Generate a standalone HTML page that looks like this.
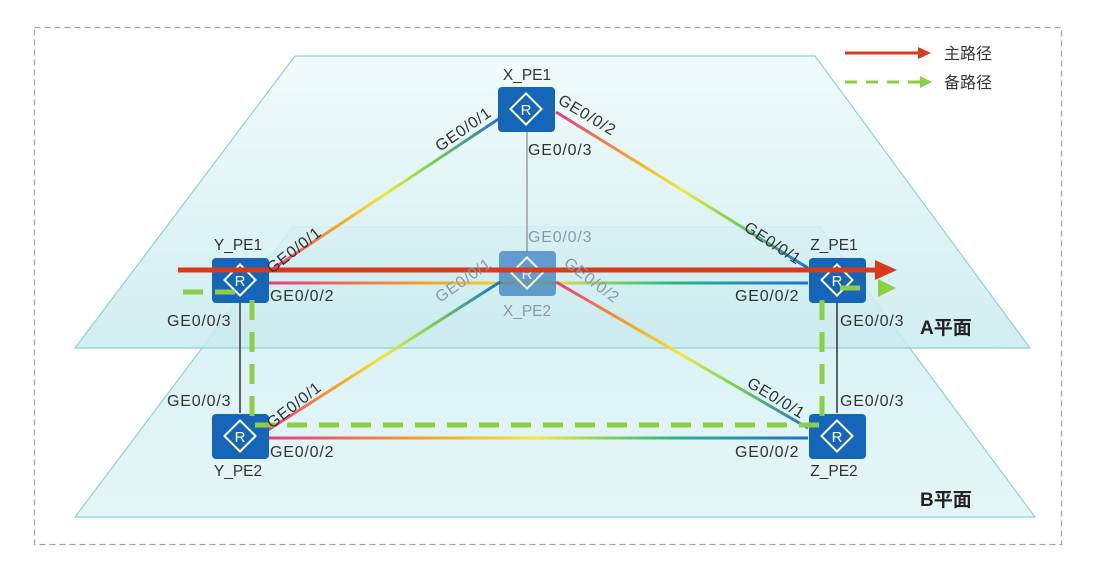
<!DOCTYPE html>
<html><head><meta charset="utf-8"><style>
html,body{margin:0;padding:0;background:#fff;}
svg{display:block;font-family:"Liberation Sans","Noto Sans CJK SC",sans-serif;}
.l{font-size:16px;fill:#333;letter-spacing:0.8px;}
.g{font-size:16px;fill:#8a9aa5;letter-spacing:0.8px;}
.n{font-size:15.5px;fill:#333;}
</style></head><body>
<svg width="1097" height="567" viewBox="0 0 1097 567" xmlns="http://www.w3.org/2000/svg">
<defs>
<linearGradient id="pa" x1="0" y1="0" x2="0" y2="1"><stop offset="0" stop-color="#eefafb"/><stop offset="1" stop-color="#c9eaee"/></linearGradient>
<linearGradient id="pb" x1="0" y1="0" x2="0" y2="1"><stop offset="0" stop-color="#d6f1f3"/><stop offset="1" stop-color="#e4f5f7"/></linearGradient>
<linearGradient id="g1" gradientUnits="userSpaceOnUse" x1="268" y1="270" x2="500" y2="118"><stop offset="0" stop-color="#e8388a"/><stop offset=".3" stop-color="#f5a623"/><stop offset=".5" stop-color="#f2e83a"/><stop offset=".7" stop-color="#7cd34a"/><stop offset="1" stop-color="#1e6fd0"/></linearGradient>
<linearGradient id="g2" gradientUnits="userSpaceOnUse" x1="556" y1="112" x2="808" y2="268"><stop offset="0" stop-color="#e8388a"/><stop offset=".3" stop-color="#f5a623"/><stop offset=".5" stop-color="#f2e83a"/><stop offset=".7" stop-color="#7cd34a"/><stop offset="1" stop-color="#1e6fd0"/></linearGradient>
<linearGradient id="g3" gradientUnits="userSpaceOnUse" x1="268" y1="283" x2="808" y2="283"><stop offset="0" stop-color="#e8388a"/><stop offset=".3" stop-color="#f5a623"/><stop offset=".5" stop-color="#f2e83a"/><stop offset=".75" stop-color="#2bb58a"/><stop offset="1" stop-color="#1e6fd0"/></linearGradient>
<linearGradient id="g4" gradientUnits="userSpaceOnUse" x1="268" y1="430" x2="500" y2="282"><stop offset="0" stop-color="#e8388a"/><stop offset=".3" stop-color="#f5a623"/><stop offset=".5" stop-color="#f2e83a"/><stop offset=".7" stop-color="#7cd34a"/><stop offset="1" stop-color="#1e6fd0"/></linearGradient>
<linearGradient id="g5" gradientUnits="userSpaceOnUse" x1="556" y1="282" x2="808" y2="428"><stop offset="0" stop-color="#e8388a"/><stop offset=".3" stop-color="#f5a623"/><stop offset=".5" stop-color="#f2e83a"/><stop offset=".7" stop-color="#7cd34a"/><stop offset="1" stop-color="#1e6fd0"/></linearGradient>
<linearGradient id="g6" gradientUnits="userSpaceOnUse" x1="268" y1="438" x2="808" y2="438"><stop offset="0" stop-color="#e8388a"/><stop offset=".3" stop-color="#f5a623"/><stop offset=".5" stop-color="#f2e83a"/><stop offset=".75" stop-color="#2bb58a"/><stop offset="1" stop-color="#1e6fd0"/></linearGradient>
<g id="r"><rect x="-28" y="-22" width="57" height="45" rx="4" fill="#1565b8"/><rect x="-11" y="-11" width="22" height="22" transform="rotate(45)" fill="none" stroke="#fff" stroke-width="2"/><text x="0" y="6" text-anchor="middle" font-size="15" fill="#fff">R</text></g>
</defs>
<rect x="34.5" y="27.5" width="1027" height="517" fill="none" stroke="#98a4b0" stroke-dasharray="6,4" stroke-width="1.2"/>
<polygon points="293,227 820,227 1035,517 75,517" fill="url(#pb)" stroke="#8fd0d6" stroke-width="1.2"/>
<polygon points="295,56 815,56 1030,348 75,348" fill="url(#pa)" fill-opacity=".85" stroke="#8fd0d6" stroke-width="1.2"/>
<line x1="527" y1="131" x2="527" y2="252" stroke="#888" stroke-width="1.2"/>
<line x1="240" y1="302" x2="240" y2="413" stroke="#333" stroke-width="1.5"/>
<line x1="837" y1="302" x2="837" y2="413" stroke="#333" stroke-width="1.5"/>
<line x1="268" y1="272" x2="500" y2="118" stroke="url(#g1)" stroke-width="3"/>
<line x1="556" y1="112" x2="808" y2="268" stroke="url(#g2)" stroke-width="3"/>
<line x1="268" y1="283" x2="808" y2="283" stroke="url(#g3)" stroke-width="3"/>
<line x1="268" y1="430" x2="500" y2="282" stroke="url(#g4)" stroke-width="3"/>
<line x1="556" y1="282" x2="808" y2="428" stroke="url(#g5)" stroke-width="3"/>
<line x1="268" y1="438" x2="808" y2="438" stroke="url(#g6)" stroke-width="3"/>
<use href="#r" x="526" y="109"/>
<use href="#r" x="240" y="280"/>
<g opacity=".6"><use href="#r" x="527" y="273"/></g>
<use href="#r" x="837" y="280"/>
<use href="#r" x="240" y="436"/>
<use href="#r" x="837" y="436"/>
<path d="M183,292 H240 M252,300 V425 H822 V300 M840,288 H872" fill="none" stroke="#8ccf45" stroke-width="5" stroke-dasharray="20,12"/>
<polygon points="878,279 896,288 878,297" fill="#8ccf45"/>
<line x1="178" y1="270" x2="878" y2="270" stroke="#d93a1a" stroke-width="5"/>
<polygon points="875,260 897,270 875,280" fill="#d93a1a"/>
<text class="n" x="527" y="80" text-anchor="middle">X_PE1</text>
<text class="n" x="238" y="250" text-anchor="middle">Y_PE1</text>
<text class="n" x="834" y="250" text-anchor="middle">Z_PE1</text>
<text class="n" x="527" y="316" text-anchor="middle" fill="#8a9aa5" style="fill:#8a9aa5">X_PE2</text>
<text class="n" x="238" y="476" text-anchor="middle">Y_PE2</text>
<text class="n" x="834" y="476" text-anchor="middle">Z_PE2</text>
<text class="l" transform="translate(440,152) rotate(-35)">GE0/0/1</text>
<text class="l" transform="translate(557,103) rotate(31)">GE0/0/2</text>
<text class="l" x="528" y="155">GE0/0/3</text>
<text class="g" x="528" y="242">GE0/0/3</text>
<text class="l" transform="translate(272,274) rotate(-38)">GE0/0/1</text>
<text class="l" x="270" y="301">GE0/0/2</text>
<text class="l" x="167" y="326">GE0/0/3</text>
<text class="l" transform="translate(743,230) rotate(33)">GE0/0/1</text>
<text class="l" x="735" y="301">GE0/0/2</text>
<text class="l" x="840" y="326">GE0/0/3</text>
<text class="g" transform="translate(440,303) rotate(-35)">GE0/0/1</text>
<text class="g" transform="translate(563,265) rotate(37)">GE0/0/2</text>
<text class="l" x="167" y="406">GE0/0/3</text>
<text class="l" transform="translate(272,429) rotate(-38)">GE0/0/1</text>
<text class="l" x="270" y="457">GE0/0/2</text>
<text class="l" transform="translate(746,386) rotate(31)">GE0/0/1</text>
<text class="l" x="735" y="457">GE0/0/2</text>
<text class="l" x="840" y="406">GE0/0/3</text>
<text x="920" y="334" font-size="19" font-weight="bold" fill="#222">A平面</text>
<text x="920" y="506" font-size="19" font-weight="bold" fill="#222">B平面</text>
<line x1="845" y1="53" x2="920" y2="53" stroke="#d93a1a" stroke-width="3"/>
<polygon points="918,47 931,53 918,59" fill="#d93a1a"/>
<text x="944" y="59" font-size="16" fill="#333">主路径</text>
<path d="M845,82 H920" stroke="#8ccf45" stroke-width="3" stroke-dasharray="12,9"/>
<polygon points="920,76 932,82 920,88" fill="#8ccf45"/>
<text x="944" y="88" font-size="16" fill="#333">备路径</text>
</svg>
</body></html>
